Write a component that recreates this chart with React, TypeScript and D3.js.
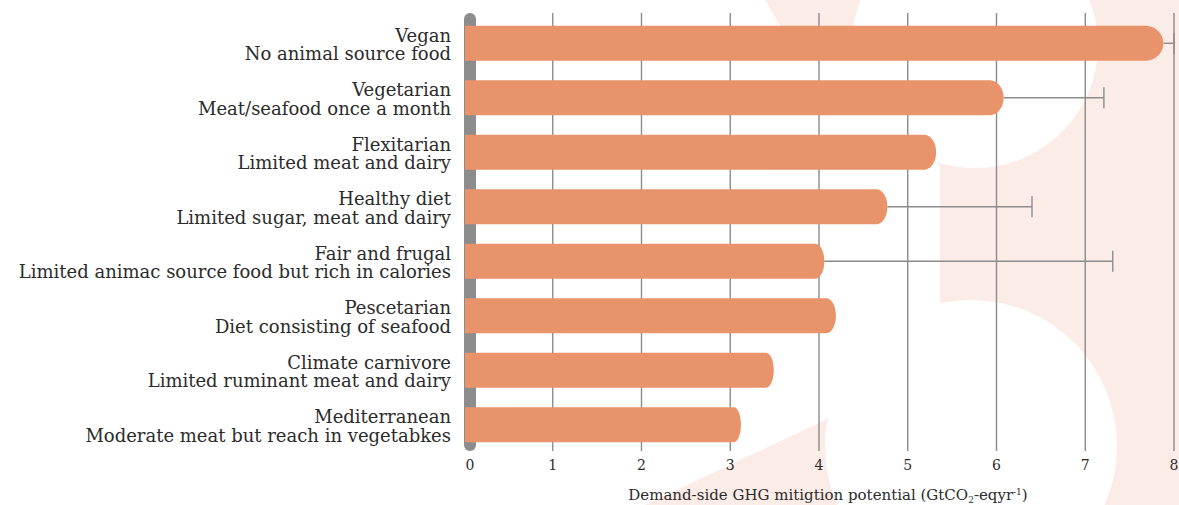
import React from "react";
import * as d3 from "d3";

const titles = ["Vegan", "Vegetarian", "Flexitarian", "Healthy diet", "Fair and frugal", "Pescetarian", "Climate carnivore", "Mediterranean"];
const subtitles = [
  "No animal source food",
  "Meat/seafood once a month",
  "Limited meat and dairy",
  "Limited sugar, meat and dairy",
  "Limited animac source food but rich in calories",
  "Diet consisting of seafood",
  "Limited ruminant meat and dairy",
  "Moderate meat but reach in vegetabkes",
];
const values = [7.88, 6.08, 5.32, 4.77, 4.06, 4.19, 3.49, 3.12];
const upper: (number | null)[] = [8.0, 7.21, null, 6.4, 7.31, null, null, null];
const ticks = [0, 1, 2, 3, 4, 5, 6, 7, 8];

const W = 1179;
const H = 505;
const BAR = "#e9936a";
const PINK = "#fbece7";
const GRAY = "#8c8c8c";
const TEXT = "#2b2b2b";
const FONT = "'DejaVu Serif', 'Liberation Serif', serif";

export default function App() {
  const x = d3.scaleLinear().domain([0, 8]).range([464, 1174]);
  const y = d3.scaleBand<string>().domain(titles).range([16, 452]).paddingInner(0.36).paddingOuter(0.18);
  const bw = y.bandwidth();

  const barPath = (v: number, top: number) => {
    const x0 = x(0) + 1;
    const x1 = x(v);
    const rx = Math.min(bw / 2, (x1 - x0) * 0.025);
    const ry = bw / 2;
    const p = d3.path();
    p.moveTo(x0, top);
    p.lineTo(x1 - rx, top);
    const steps = 24;
    for (let i = 0; i <= steps; i++) {
      const a = -Math.PI / 2 + (Math.PI * i) / steps;
      p.lineTo(x1 - rx + rx * Math.cos(a), top + ry + ry * Math.sin(a));
    }
    p.lineTo(x0, top + bw);
    p.closePath();
    return p.toString();
  };

  return (
    <div style={{ position: "fixed", left: 0, top: 0, width: W, height: H, overflow: "hidden" }}>
      <svg width={W} height={H} style={{ display: "block", background: "#fff" }}>
        <path
          d="M765,0 L1179,0 L1179,505 L645,505 L825,420 L940,303 L940,167 L900,100 L870,43 L790,43 Z"
          fill={PINK}
        />
        <circle cx={975} cy={45} r={123} fill="#fff" />
        <circle cx={971} cy={446} r={146} fill="#fff" />

        {ticks.slice(1).map((t) => (
          <line key={t} x1={x(t)} x2={x(t)} y1={13} y2={451} stroke={GRAY} strokeWidth={1.4} />
        ))}
        <rect x={x(0)} y={13} width={12} height={438} rx={6} ry={6} fill={GRAY} />

        {titles.map((t, i) => {
          const u = upper[i];
          if (u == null) return null;
          const cy = (y(t) as number) + bw / 2;
          return (
            <g key={"e" + t} stroke={GRAY} strokeWidth={1.4}>
              <line x1={x(values[i])} x2={x(u)} y1={cy} y2={cy} />
              <line x1={x(u)} x2={x(u)} y1={cy - 10.5} y2={cy + 10.5} />
            </g>
          );
        })}

        {titles.map((t, i) => (
          <path key={"b" + t} d={barPath(values[i], y(t) as number)} fill={BAR} />
        ))}

        {titles.map((t, i) => {
          const cy = (y(t) as number) + bw / 2;
          return (
            <text key={"l" + t} x={451} textAnchor="end" fontFamily={FONT} fontSize={18} fill={TEXT}>
              <tspan x={451} y={cy - 1.5}>{t}</tspan>
              <tspan x={451} y={cy + 17.2}>{subtitles[i]}</tspan>
            </text>
          );
        })}

        {ticks.map((t) => (
          <text
            key={"t" + t}
            x={t === 0 ? x(0) + 6 : x(t)}
            y={470}
            textAnchor="middle"
            fontFamily={FONT}
            fontSize={14}
            fill={TEXT}
          >
            {t}
          </text>
        ))}

        <text x={828} y={500} textAnchor="middle" fontFamily={FONT} fontSize={15} fill={TEXT}>
          Demand-side GHG mitigtion potential (GtCO
          <tspan fontSize={9} dy={3}>2</tspan>
          <tspan dy={-3}>-eqyr</tspan>
          <tspan fontSize={9} dy={-5}>-1</tspan>
          <tspan dy={5}>)</tspan>
        </text>
      </svg>
    </div>
  );
}
